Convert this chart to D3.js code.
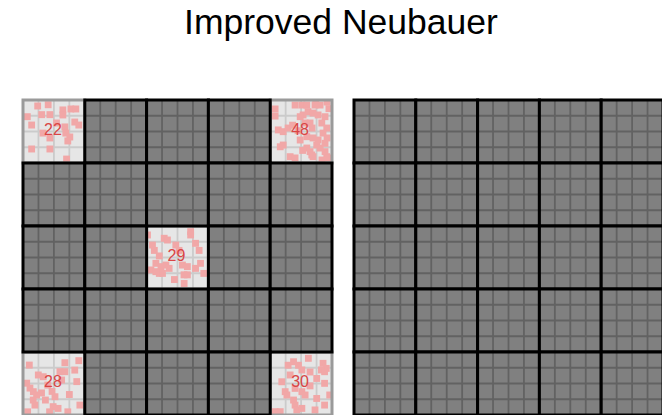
<!DOCTYPE html>
<html>
<head>
<meta charset="utf-8">
<script src="https://cdn.jsdelivr.net/npm/d3@7/dist/d3.min.js"></script>
<style>
  html, body { margin: 0; padding: 0; background: #fff; }
  svg { display: block; }
</style>
</head>
<body>
<script>
// Improved Neubauer counting chamber: 5x5 large squares, each split 4x4.
const title = "Improved Neubauer";
const gridSize = 5;     // large squares per side
const subdiv = 4;       // small squares per large square side

// Large squares that were counted (column, row) and their cell counts
const countedSquares = [[0, 0], [4, 0], [2, 2], [0, 4], [4, 4]];
const counts = [22, 48, 29, 28, 30];

// Cell centres inside each counted square, in small-square units (0..4)
const cells22 = [
  [0.95,0.38],[1.63,0.30],[0.28,1.06],[1.21,0.93],[1.74,0.93],[2.58,0.63],[3.10,0.57],
  [3.42,0.57],[2.58,0.95],[0.56,1.59],[2.17,1.46],[3.35,1.40],[3.61,1.59],[2.71,1.71],
  [1.29,2.10],[1.74,2.41],[2.77,2.10],[3.03,2.35],[2.90,2.60],[0.56,3.11],[1.74,3.11],
  [2.82,3.75]
];
const cells48 = [
  [0.32,0.57],[0.32,1.02],[2.05,0.32],[2.37,0.32],[2.90,0.32],[3.23,0.32],[3.68,0.13],
  [2.45,0.74],[2.13,0.95],[1.94,1.06],[2.77,0.83],[3.10,0.95],[3.55,1.06],[2.26,1.46],
  [2.58,1.46],[3.34,1.46],[3.66,1.78],[0.52,1.90],[0.84,2.01],[1.16,1.78],[2.37,2.33],
  [2.77,2.41],[3.10,2.54],[3.42,2.10],[3.68,2.41],[0.65,2.97],[0.84,2.86],[2.37,3.05],
  [2.58,3.28],[3.01,2.86],[3.23,3.05],[3.55,3.28],[3.66,3.60],[1.29,3.60],[1.61,3.68],
  [2.69,3.49],[2.77,3.60],[3.74,3.68],[1.61,0.32],[3.80,0.55],[1.45,1.60],[1.80,1.95],
  [2.71,1.78],[1.94,2.54],[3.55,2.75],[2.10,3.20],[3.35,3.81],[2.95,0.10]
];
const cells29 = [
  [0.06,0.57],[0.38,1.21],[1.14,0.78],[1.35,0.89],[1.89,1.21],[2.85,0.36],[2.85,0.57],
  [3.17,1.10],[0.60,2.37],[0.93,2.58],[1.25,2.48],[1.46,2.69],[0.28,2.79],[0.60,2.90],
  [0.82,3.01],[1.03,3.01],[2.32,2.48],[2.64,2.58],[2.64,3.10],[2.42,3.10],[3.17,2.69],
  [3.49,2.37],[3.70,3.01],[2.43,3.65],[0.82,1.90],[2.10,1.55],[3.40,1.55],[0.50,1.55],
  [1.80,3.40]
];
const cells28 = [
  [0.41,0.83],[2.71,0.68],[3.61,0.55],[0.99,1.46],[1.31,1.57],[2.39,1.25],[2.71,1.25],
  [0.24,1.98],[0.45,2.29],[1.88,2.50],[2.07,2.84],[0.67,2.52],[0.88,2.73],[0.66,3.05],
  [0.77,3.37],[2.50,1.78],[3.48,1.88],[1.95,3.47],[2.27,3.58],[1.72,3.80],[3.68,3.37],
  [1.20,2.60],[1.60,2.10],[3.00,2.70],[0.30,3.80],[1.45,3.05],[2.90,3.80],[3.35,1.15]
];
const cells30 = [
  [1.51,0.62],[1.83,0.84],[2.47,0.40],[2.05,1.14],[3.42,0.72],[3.63,1.04],[3.31,1.14],
  [3.52,1.25],[3.01,1.68],[3.52,1.99],[0.75,1.89],[0.97,2.52],[1.08,2.73],[1.61,2.31],
  [2.05,2.52],[1.51,3.05],[1.61,3.37],[1.72,3.68],[2.05,3.58],[3.01,2.95],[3.52,3.37],
  [0.65,3.79],[0.32,3.79],[2.90,3.68],[1.29,1.46],[2.58,1.27],[2.26,2.73],[2.58,2.15],
  [3.85,2.73],[1.16,0.84]
];
const countedCells = [cells22, cells48, cells29, cells28, cells30];

const W = 662, H = 415;
const svg = d3.select("body").append("svg").attr("width", W).attr("height", H);

svg.append("text")
  .attr("x", 341).attr("y", 34)
  .attr("text-anchor", "middle")
  .attr("font-family", "'Liberation Sans', Arial, sans-serif")
  .attr("font-size", 35.5)
  .attr("fill", "#000")
  .text(title);

const N = gridSize * subdiv;
const y = d3.scaleLinear().domain([0, N]).range([100, 415]);
const panels = [
  { x: d3.scaleLinear().domain([0, N]).range([23, 332]), counted: true, id: "L" },
  { x: d3.scaleLinear().domain([0, N]).range([354, 663]), counted: false, id: "R" }
];

const cellSize = 0.44; // small-square units
const defs = svg.append("defs");

panels.forEach(p => {
  const g = svg.append("g");
  const squares = [];
  for (let r = 0; r < gridSize; r++) {
    for (let c = 0; c < gridSize; c++) {
      const k = p.counted ? countedSquares.findIndex(s => s[0] === c && s[1] === r) : -1;
      squares.push({ c, r, k });
    }
  }
  // counted squares first, dark squares drawn over their shared edges
  squares.sort((a, b) => (b.k >= 0) - (a.k >= 0));

  squares.forEach(s => {
    const x0 = p.x(s.c * subdiv), x1 = p.x((s.c + 1) * subdiv);
    const y0 = y(s.r * subdiv), y1 = y((s.r + 1) * subdiv);
    const lit = s.k >= 0;
    const sg = g.append("g");
    sg.append("rect")
      .attr("x", x0).attr("y", y0).attr("width", x1 - x0).attr("height", y1 - y0)
      .attr("fill", lit ? "#e6e6e6" : "#808080");
    const ticks = d3.range(1, subdiv);
    sg.selectAll("line.v").data(ticks).join("line")
      .attr("x1", t => p.x(s.c * subdiv + t)).attr("x2", t => p.x(s.c * subdiv + t))
      .attr("y1", y0).attr("y2", y1)
      .attr("stroke", lit ? "#cbcbcb" : "#626262").attr("stroke-width", 1.8);
    sg.selectAll("line.h").data(ticks).join("line")
      .attr("y1", t => y(s.r * subdiv + t)).attr("y2", t => y(s.r * subdiv + t))
      .attr("x1", x0).attr("x2", x1)
      .attr("stroke", lit ? "#cbcbcb" : "#626262").attr("stroke-width", 1.8);

    if (lit) {
      const clipId = `clip-${p.id}-${s.c}-${s.r}`;
      defs.append("clipPath").attr("id", clipId).append("rect")
        .attr("x", x0).attr("y", y0).attr("width", x1 - x0).attr("height", y1 - y0);
      const cg = sg.append("g").attr("clip-path", `url(#${clipId})`);
      cg.selectAll("rect.cell").data(countedCells[s.k]).join("rect")
        .attr("x", d => p.x(s.c * subdiv + d[0] - cellSize / 2))
        .attr("y", d => y(s.r * subdiv + d[1] - cellSize / 2))
        .attr("width", p.x(cellSize) - p.x(0))
        .attr("height", y(cellSize) - y(0))
        .attr("fill", "#f1a7a7");
      sg.append("text")
        .attr("x", (x0 + x1) / 2 - 1).attr("y", (y0 + y1) / 2 - 1)
        .attr("text-anchor", "middle").attr("dominant-baseline", "middle")
        .attr("font-family", "'Liberation Sans', Arial, sans-serif")
        .attr("font-size", 16)
        .attr("fill", "#d94545")
        .text(counts[s.k]);
    }
    sg.append("rect")
      .attr("x", x0).attr("y", y0).attr("width", x1 - x0).attr("height", y1 - y0)
      .attr("fill", "none")
      .attr("stroke", lit ? "#9a9a9a" : "#000")
      .attr("stroke-width", 3);
  });
});
</script>
</body>
</html>
